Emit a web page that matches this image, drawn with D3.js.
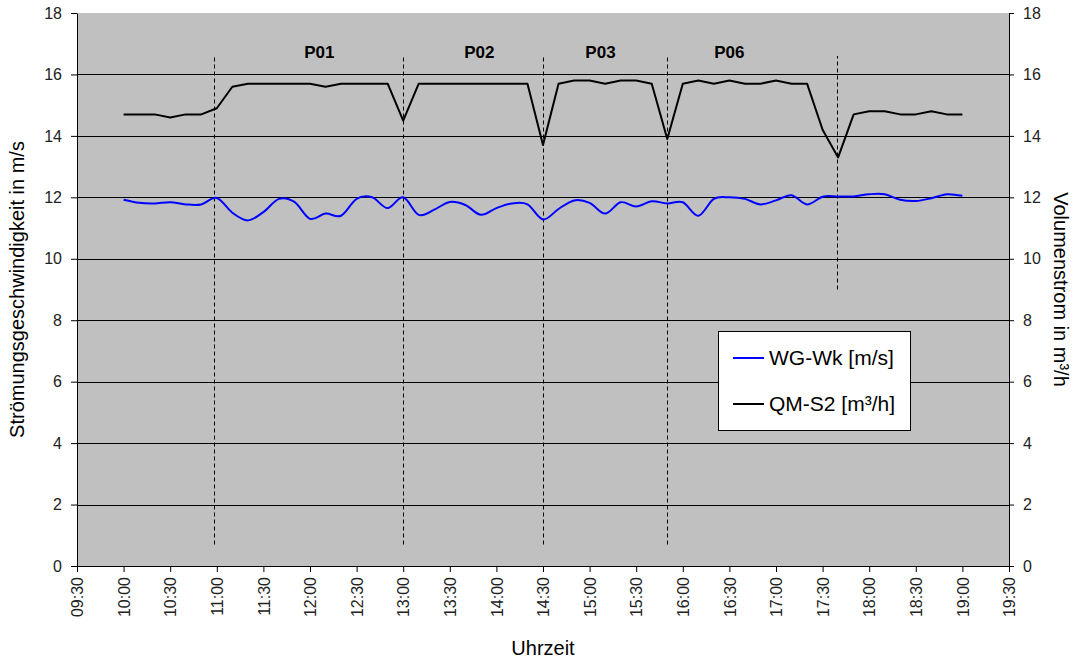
<!DOCTYPE html>
<html>
<head>
<meta charset="utf-8">
<script src="https://cdn.jsdelivr.net/npm/d3@7"></script>
<style>
  html, body { margin: 0; padding: 0; background: #ffffff; }
  svg { display: block; font-family: "Liberation Sans", Arial, sans-serif; }
</style>
</head>
<body>
<svg id="chart" width="1075" height="661"></svg>
<script>
// ---------- data ----------
const times = ["10:00","10:10","10:20","10:30","10:40","10:50",
  "11:00","11:10","11:20","11:30","11:40","11:50",
  "12:00","12:10","12:20","12:30","12:40","12:50",
  "13:00","13:10","13:20","13:30","13:40","13:50",
  "14:00","14:10","14:20","14:30","14:40","14:50",
  "15:00","15:10","15:20","15:30","15:40","15:50",
  "16:00","16:10","16:20","16:30","16:40","16:50",
  "17:00","17:10","17:20","17:30","17:40","17:50",
  "18:00","18:10","18:20","18:30","18:40","18:50",
  "19:00"];

const wgWk = [11.92,11.82,11.80,11.84,11.77,11.77,
  11.98,11.50,11.25,11.52,11.95,11.85,
  11.30,11.47,11.40,11.95,12.00,11.65,
  12.00,11.43,11.60,11.85,11.75,11.43,
  11.65,11.80,11.77,11.28,11.62,11.90,
  11.82,11.47,11.84,11.70,11.87,11.80,
  11.84,11.40,11.95,12.00,11.95,11.77,
  11.90,12.07,11.77,12.02,12.03,12.03,
  12.10,12.10,11.92,11.88,11.97,12.10,
  12.05];

const qmS2 = [14.7,14.7,14.7,14.6,14.7,14.7,
  14.9,15.6,15.7,15.7,15.7,15.7,
  15.7,15.6,15.7,15.7,15.7,15.7,
  14.5,15.7,15.7,15.7,15.7,15.7,
  15.7,15.7,15.7,13.7,15.7,15.8,
  15.8,15.7,15.8,15.8,15.7,13.9,
  15.7,15.8,15.7,15.8,15.7,15.7,
  15.8,15.7,15.7,14.2,13.3,14.7,
  14.8,14.8,14.7,14.7,14.8,14.7,
  14.7];

const xTickLabels = ["09:30","10:00","10:30","11:00","11:30","12:00","12:30",
  "13:00","13:30","14:00","14:30","15:00","15:30","16:00","16:30",
  "17:00","17:30","18:00","18:30","19:00","19:30"];
const yTicks = [0,2,4,6,8,10,12,14,16,18];
const gridValues = [2,4,6,8,10,12,14,16];

const markerTimes = ["10:58","13:00","14:30","15:50","17:39"];
const markerFrom  = [0.7,0.7,0.7,0.7,9.0];
const markerTo    = [16.6,16.6,16.6,16.6,16.6];

const phaseLabels = ["P01","P02","P03","P06"];
const phaseTimes  = ["12:06","13:49","15:07","16:30"];

const seriesNames = ["WG-Wk [m/s]","QM-S2 [m³/h]"];
const seriesColors = ["#0000ff","#000000"];

// ---------- helpers ----------
const toMin = s => { const [h,m] = s.split(":").map(Number); return h*60+m; };

// ---------- layout ----------
const svg = d3.select("#chart");
const L = 77, R = 1009, T = 13, B = 566;

const x = d3.scaleLinear()
  .domain([toMin(xTickLabels[0]), toMin(xTickLabels[xTickLabels.length-1])])
  .range([L, R]);
const yL = d3.scaleLinear().domain([0,18]).range([B, T]);
const yR = d3.scaleLinear().domain([0,18]).range([B, T]);

// plot background
svg.append("rect")
  .attr("x", L).attr("y", T).attr("width", R-L).attr("height", B-T)
  .attr("fill", "#c0c0c0");

// gridlines
svg.append("g").selectAll("line").data(gridValues).join("line")
  .attr("x1", L).attr("x2", R)
  .attr("y1", d => Math.round(yL(d)) + 0.5).attr("y2", d => Math.round(yL(d)) + 0.5)
  .attr("stroke", "#000").attr("stroke-width", 1);

// axes
const tickFont = 16;
const xAxis = d3.axisBottom(x)
  .tickValues(xTickLabels.map(toMin))
  .tickFormat((d,i) => xTickLabels[i])
  .tickSize(6).tickSizeOuter(0);
const gx = svg.append("g").attr("transform", `translate(0,${B})`).call(xAxis);
gx.selectAll("text")
  .attr("transform", "rotate(-90)")
  .attr("text-anchor", "end")
  .attr("x", -11).attr("y", 0).attr("dy", "0.35em");

const gl = svg.append("g").attr("transform", `translate(${L},0)`)
  .call(d3.axisLeft(yL).tickValues(yTicks).tickFormat(d3.format("d")).tickSize(6).tickPadding(9).tickSizeOuter(0));
const gr = svg.append("g").attr("transform", `translate(${R},0)`)
  .call(d3.axisRight(yR).tickValues(yTicks).tickFormat(d3.format("d")).tickSize(5).tickPadding(9).tickSizeOuter(0));

[gx, gl, gr].forEach(g => {
  g.selectAll("text").attr("font-size", tickFont).attr("fill", "#222")
    .attr("font-family", "'Liberation Sans', Arial, sans-serif");
  g.selectAll("line").attr("stroke", "#000");
  g.select(".domain").attr("stroke", "#000");
});

// marker dashed lines
svg.append("g").selectAll("line").data(markerTimes).join("line")
  .attr("x1", d => Math.round(x(toMin(d))) + 0.5)
  .attr("x2", d => Math.round(x(toMin(d))) + 0.5)
  .attr("y1", (d,i) => yL(markerFrom[i]))
  .attr("y2", (d,i) => yL(markerTo[i]))
  .attr("stroke", "#000").attr("stroke-width", 1)
  .attr("stroke-dasharray", "4,3");

// phase labels
svg.append("g").selectAll("text").data(phaseLabels).join("text")
  .attr("x", (d,i) => x(toMin(phaseTimes[i])))
  .attr("y", 58)
  .attr("text-anchor", "middle")
  .attr("font-size", 17).attr("font-weight", "bold")
  .text(d => d);

// lines
const pts = times.map(toMin);
const lineBlue = d3.line()
  .x((d,i) => x(pts[i])).y(d => yL(d))
  .curve(d3.curveCardinal.tension(0));
const lineBlack = d3.line()
  .x((d,i) => x(pts[i])).y(d => yR(d));

svg.append("path").datum(wgWk)
  .attr("d", lineBlue).attr("fill", "none")
  .attr("stroke", seriesColors[0]).attr("stroke-width", 2);
svg.append("path").datum(qmS2)
  .attr("d", lineBlack).attr("fill", "none")
  .attr("stroke", seriesColors[1]).attr("stroke-width", 2)
  .attr("stroke-linejoin", "round");

// legend
const lg = svg.append("g");
lg.append("rect").attr("x", 718.5).attr("y", 331.5).attr("width", 192).attr("height", 99)
  .attr("fill", "#fff").attr("stroke", "#000").attr("stroke-width", 1);
seriesNames.forEach((name, i) => {
  const yy = 358 + i*46;
  lg.append("line").attr("x1", 733).attr("x2", 764).attr("y1", yy).attr("y2", yy)
    .attr("stroke", seriesColors[i]).attr("stroke-width", 2);
  lg.append("text").attr("x", 769).attr("y", yy).attr("dy", "0.35em")
    .attr("font-size", 21).attr("fill", "#000").text(name);
});

// axis titles
svg.append("text")
  .attr("transform", `translate(24,${(T+B)/2}) rotate(-90)`)
  .attr("text-anchor", "middle").attr("font-size", 20).text("Strömungsgeschwindigkeit in m/s");
svg.append("text")
  .attr("transform", `translate(1054,${(T+B)/2}) rotate(90)`)
  .attr("text-anchor", "middle").attr("font-size", 20).text("Volumenstrom in m³/h");
svg.append("text")
  .attr("x", 543).attr("y", 655)
  .attr("text-anchor", "middle").attr("font-size", 20).text("Uhrzeit");
</script>
</body>
</html>
